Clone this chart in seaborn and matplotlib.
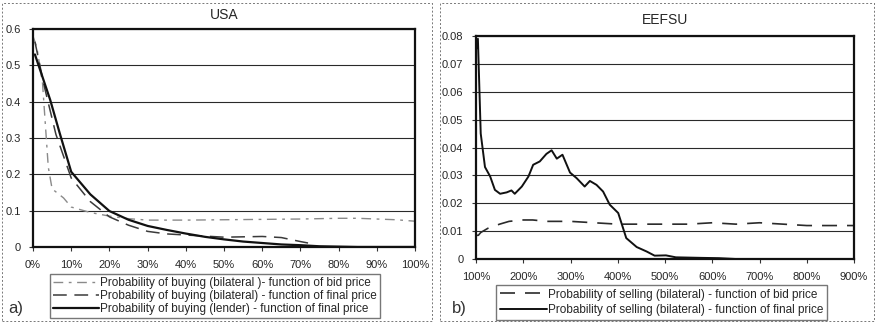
"""Recreation of the scanned two-panel probability chart (USA / EEFSU)."""

import matplotlib.pyplot as plt
import seaborn as sns
from matplotlib.patches import Rectangle

# ──────────────────────────────────────────────
# Data
# ──────────────────────────────────────────────
usa_lender_x = [0.5, 4.5, 7, 10, 15, 20, 25, 30, 35, 40, 45, 50, 55, 60, 65, 70,
                75, 80, 85, 90, 95, 100]
usa_lender_y = [0.53, 0.405, 0.313, 0.207, 0.145, 0.099, 0.075, 0.058, 0.047,
                0.037, 0.028, 0.021, 0.015, 0.011, 0.007, 0.005, 0.002, 0.001,
                0.0, 0.0, 0.0, 0.0]

usa_final_x = [0.5, 3, 6, 10, 15, 20, 25, 30, 35, 40, 45, 50, 55, 60, 65, 70, 72]
usa_final_y = [0.565, 0.44, 0.31, 0.19, 0.125, 0.083, 0.06, 0.043, 0.036, 0.033,
               0.030, 0.027, 0.028, 0.029, 0.026, 0.015, 0.011]

usa_bid_x = [0, 1, 2.5, 4, 5, 8, 10, 15, 20, 25, 30, 40, 50, 60, 70, 80, 85, 90,
             95, 100]
usa_bid_y = [0.58, 0.55, 0.45, 0.22, 0.16, 0.135, 0.11, 0.095, 0.085, 0.078,
             0.074, 0.074, 0.075, 0.076, 0.077, 0.079, 0.079, 0.077, 0.075, 0.071]

eefsu_final_x = [100, 104, 110, 119, 130, 140, 151, 165, 175, 182, 197, 211, 221,
                 235, 249, 260, 271, 283, 299, 313, 330, 341, 355, 369, 383, 401,
                 418, 440, 461, 478, 502, 523, 579, 614, 650, 700, 800, 900]
eefsu_final_y = [0.075, 0.079, 0.045, 0.033, 0.0296, 0.0248, 0.0234, 0.0239,
                 0.0246, 0.0234, 0.026, 0.0296, 0.0338, 0.035, 0.0377, 0.039,
                 0.036, 0.0374, 0.031, 0.029, 0.026, 0.028, 0.0266, 0.0242,
                 0.0195, 0.0165, 0.0075, 0.0043, 0.0027, 0.0012, 0.0013, 0.0006,
                 0.0004, 0.0003, 0.0, 0.0, 0.0, 0.0]

eefsu_bid_x = [100, 105, 110, 120, 125, 150, 170, 200, 220, 250, 300, 350, 400,
               450, 500, 550, 600, 650, 700, 750, 800, 850, 900]
eefsu_bid_y = [0.0085, 0.0085, 0.0095, 0.0105, 0.011, 0.0125, 0.0135, 0.014,
               0.014, 0.0135, 0.0135, 0.013, 0.0125, 0.0125, 0.0125, 0.0125,
               0.013, 0.0125, 0.013, 0.0125, 0.012, 0.012, 0.012]

usa_labels = [
    "Probability of buying (bilateral )- function of bid price",
    "Probability of buying (bilateral) - function of final price",
    "Probability of buying (lender) - function of final price",
]
eefsu_labels = [
    "Probability of selling (bilateral) - function of bid price",
    "Probability of selling (bilateral) - function of final price",
]

# ──────────────────────────────────────────────
# Style
# ──────────────────────────────────────────────
sns.set_style("white")
plt.rcParams["font.family"] = ["Liberation Sans", "DejaVu Sans"]

W, H = 876, 323
fig = plt.figure(figsize=(W / 100, H / 100), dpi=100)


def px_axes(x0, x1, ytop, ybot):
    return fig.add_axes([x0 / W, 1 - ybot / H, (x1 - x0) / W, (ybot - ytop) / H])


def style_axes(ax):
    for s in ax.spines.values():
        s.set_color("#111111")
        s.set_linewidth(1.6)
    ax.yaxis.grid(True, color="#2a2a2a", linewidth=0.8)
    ax.xaxis.grid(False)
    ax.set_axisbelow(True)
    ax.tick_params(axis="both", labelsize=8, direction="out", length=3,
                   width=0.8, color="#333333", pad=6, bottom=True, left=True)
    ax.set_xlabel("")
    ax.set_ylabel("")


# Panel outlines (scan-like dotted boxes)
for (x0, x1) in [(2, 432), (440, 874)]:
    fig.add_artist(Rectangle((x0 / W, 2 / H), (x1 - x0) / W, 318 / H,
                             transform=fig.transFigure, fill=False,
                             edgecolor="#777777", linewidth=0.7,
                             linestyle=(0, (2, 2))))

# ──────────────────────────────────────────────
# a) USA
# ──────────────────────────────────────────────
ax1 = px_axes(33, 415, 29, 247)
sns.lineplot(x=usa_bid_x, y=usa_bid_y, ax=ax1, color="#8a8a8a", linewidth=1.0,
             linestyle=(0, (7, 4, 2, 4)), label=usa_labels[0], sort=False)
sns.lineplot(x=usa_final_x, y=usa_final_y, ax=ax1, color="#3a3a3a", linewidth=1.1,
             linestyle=(0, (9, 5)), label=usa_labels[1], sort=False)
sns.lineplot(x=usa_lender_x, y=usa_lender_y, ax=ax1, color="#111111", linewidth=1.6,
             label=usa_labels[2], sort=False)
ax1.set_xlim(0, 100)
ax1.set_ylim(0, 0.6)
ax1.set_xticks(range(0, 101, 10))
ax1.set_xticklabels([f"{v}%" for v in range(0, 101, 10)])
yt1 = [0, 0.1, 0.2, 0.3, 0.4, 0.5, 0.6]
ax1.set_yticks(yt1)
ax1.set_yticklabels(["0" if v == 0 else f"{v:.1f}" for v in yt1])
style_axes(ax1)
ax1.set_title("USA", fontsize=10, pad=7)
ax1.legend(loc="upper left", bbox_to_anchor=(50 / W, 1 - 274 / H),
           bbox_transform=fig.transFigure, fontsize=8.5, frameon=True,
           fancybox=False, edgecolor="#555555", handlelength=3.9,
           handletextpad=0.1, labelspacing=0.08, borderpad=0.25,
           borderaxespad=0)
fig.text(8 / W, 1 - 308 / H, "a)", fontsize=12, va="center", ha="left",
         color="#333333")

# ──────────────────────────────────────────────
# b) EEFSU
# ──────────────────────────────────────────────
ax2 = px_axes(476, 854, 36, 259)
sns.lineplot(x=eefsu_bid_x, y=eefsu_bid_y, ax=ax2, color="#2a2a2a", linewidth=1.2,
             linestyle=(0, (9, 6)), label=eefsu_labels[0], sort=False)
sns.lineplot(x=eefsu_final_x, y=eefsu_final_y, ax=ax2, color="#111111",
             linewidth=1.4, label=eefsu_labels[1], sort=False)
ax2.set_xlim(100, 900)
ax2.set_ylim(0, 0.08)
ax2.set_xticks(range(100, 901, 100))
ax2.set_xticklabels([f"{v}%" for v in range(100, 901, 100)])
yt2 = [0, 0.01, 0.02, 0.03, 0.04, 0.05, 0.06, 0.07, 0.08]
ax2.set_yticks(yt2)
ax2.set_yticklabels(["0" if v == 0 else f"{v:.2f}" for v in yt2])
style_axes(ax2)
ax2.set_title("EEFSU", fontsize=10, pad=9)
ax2.legend(loc="upper left", bbox_to_anchor=(496 / W, 1 - 285 / H),
           bbox_transform=fig.transFigure, fontsize=8.5, frameon=True,
           fancybox=False, edgecolor="#555555", handlelength=4.0,
           handletextpad=0.1, labelspacing=0.3, borderpad=0.3,
           borderaxespad=0)
fig.text(452 / W, 1 - 309 / H, "b)", fontsize=12, va="center", ha="left",
         color="#333333")

fig.savefig("out.png", dpi=100, facecolor="white")
